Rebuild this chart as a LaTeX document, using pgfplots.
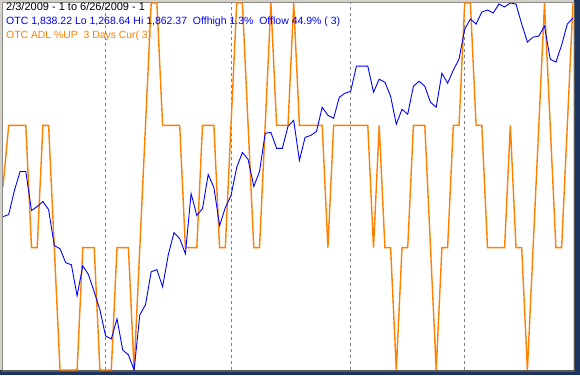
\documentclass[border=0pt]{standalone}
\usepackage{pgfplots}
\usepackage{pgfplotstable}
\pgfplotsset{compat=1.18}
\usepackage{fontspec}
\setmainfont{Liberation Sans}
\definecolor{otcblue}{RGB}{0,0,255}
\definecolor{adlorange}{RGB}{255,128,0}
\definecolor{framegray}{RGB}{212,208,200}
\definecolor{framenavy}{RGB}{28,52,96}

\pgfplotstableread{
d v
0 1516.8
1 1520.1
2 1559.0
3 1589.8
4 1589.8
5 1526.6
6 1533.1
7 1541.2
8 1528.2
9 1469.8
10 1464.9
11 1442.2
12 1438.9
13 1388.7
14 1437.3
15 1422.8
16 1395.2
17 1366.0
18 1323.8
19 1318.9
20 1351.4
21 1301.1
22 1293.0
23 1268.64
24 1357.9
25 1374.1
26 1427.6
27 1430.9
28 1403.3
29 1455.2
30 1490.9
31 1481.2
32 1456.8
33 1554.1
34 1518.5
35 1529.8
36 1585.0
37 1563.9
38 1502.2
39 1531.4
40 1550.9
41 1596.3
42 1620.6
43 1609.3
44 1565.5
45 1589.8
46 1651.5
47 1653.1
48 1627.1
49 1627.1
50 1662.8
51 1672.6
52 1607.7
53 1645.0
54 1648.2
55 1654.7
56 1693.7
57 1680.7
58 1675.8
59 1709.9
60 1716.4
61 1719.6
62 1760.2
63 1760.2
64 1760.2
65 1718.0
66 1739.1
67 1734.2
68 1711.5
69 1666.1
70 1690.4
71 1682.3
72 1727.7
73 1735.8
74 1727.7
75 1701.8
76 1693.7
77 1748.8
78 1732.6
79 1753.7
80 1771.5
81 1820.2
82 1836.4
83 1828.3
84 1847.8
85 1851.0
86 1846.2
87 1860.7
88 1855.9
89 1862.37
90 1860.7
91 1828.3
92 1799.1
93 1807.2
94 1808.9
95 1825.1
96 1771.5
97 1766.7
98 1794.2
99 1828.3
100 1838.22
}\otc

\pgfplotstableread{
d u
0 50
1 66.67
2 66.67
3 66.67
4 66.67
5 33.33
6 33.33
7 66.67
8 66.67
9 33.33
10 0
11 0
12 0
13 0
14 33.33
15 33.33
16 33.33
17 0
18 0
19 0
20 33.33
21 33.33
22 33.33
23 0
24 33.33
25 66.67
26 100
27 100
28 66.67
29 66.67
30 66.67
31 66.67
32 33.33
33 33.33
34 33.33
35 66.67
36 66.67
37 66.67
38 33.33
39 33.33
40 66.67
41 100
42 100
43 66.67
44 33.33
45 33.33
46 66.67
47 100
48 66.67
49 66.67
50 66.67
51 100
52 66.67
53 66.67
54 66.67
55 66.67
56 66.67
57 33.33
58 66.67
59 66.67
60 66.67
61 66.67
62 66.67
63 66.67
64 66.67
65 33.33
66 66.67
67 33.33
68 33.33
69 0
70 33.33
71 33.33
72 66.67
73 66.67
74 66.67
75 33.33
76 0
77 33.33
78 33.33
79 66.67
80 66.67
81 100
82 100
83 66.67
84 66.67
85 33.33
86 33.33
87 33.33
88 33.33
89 66.67
90 33.33
91 33.33
92 0
93 33.33
94 66.67
95 100
96 66.67
97 33.33
98 33.33
99 66.67
100 100
}\adl

\begin{document}
\begin{tikzpicture}[x=1pt,y=1pt]
% window frame
\fill[framenavy] (0,0) rectangle (580,375);
\fill[framegray] (0,5) rectangle (574,375);
\fill[white] (3,5) rectangle (573,372);
\draw[black!45, line width=1pt] (2.5,4.5) -- (2.5,372.5) -- (573.5,372.5);
\draw[black!65, line width=1.5pt] (2,4.25) -- (574.25,4.25) -- (574.25,373);

\begin{axis}[at={(3pt,5pt)}, anchor=south west, scale only axis,
  width=570pt, height=367pt, xmin=0, xmax=100, ymin=0, ymax=100, hide axis]
\addplot[black!50, line width=0.8pt, dash pattern=on 3pt off 3pt] coordinates {(18,0) (18,100)};
\addplot[black!50, line width=0.8pt, dash pattern=on 3pt off 3pt] coordinates {(40,0) (40,100)};
\addplot[black!50, line width=0.8pt, dash pattern=on 3pt off 3pt] coordinates {(61,0) (61,100)};
\addplot[black!50, line width=0.8pt, dash pattern=on 3pt off 3pt] coordinates {(81,0) (81,100)};
\addplot[adlorange, line width=1.4pt, line join=miter] table[x=d, y=u] {\adl};
\end{axis}

\begin{axis}[at={(3pt,5pt)}, anchor=south west, scale only axis,
  width=570pt, height=367pt, xmin=0, xmax=100, ymin=1268.64, ymax=1862.37, hide axis]
\addplot[otcblue, line width=0.9pt] table[x=d, y=v] {\otc};
\end{axis}

\begin{scope}[every node/.style={anchor=base west, inner sep=0pt}]
\node[black, font=\fontsize{11}{13}\selectfont] at (6,364) {2/3/2009 - 1 to 6/26/2009 - 1};
\node[otcblue, font=\fontsize{10.5}{13}\selectfont] at (6,350) {OTC 1,838.22 Lo 1,268.64 Hi 1,862.37\ \ Offhigh 1.3\%\ \ Offlow 44.9\% ( 3)};
\node[adlorange, font=\fontsize{10.4}{13}\selectfont] at (6,336) {OTC ADL \%UP\ \ 3 Days Cur( 3)};
\end{scope}
\end{tikzpicture}
\end{document}
